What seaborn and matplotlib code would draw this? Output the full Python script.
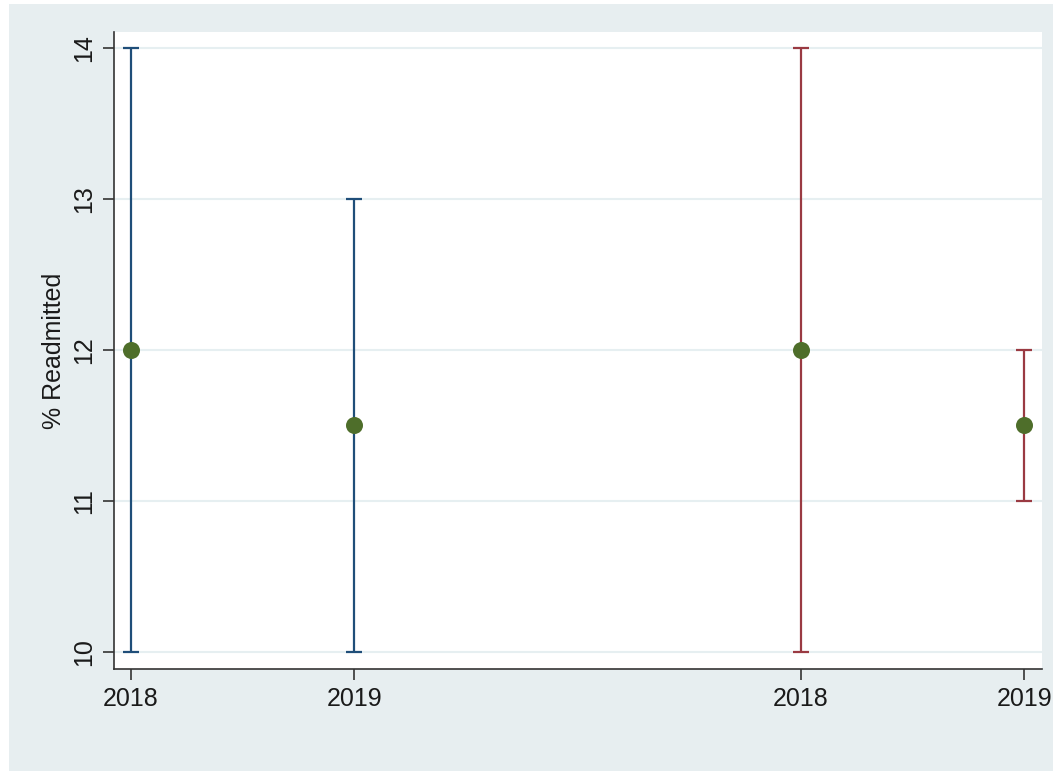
import matplotlib
matplotlib.use("Agg")
import matplotlib.pyplot as plt
import seaborn as sns
import pandas as pd
from matplotlib.patches import Rectangle

# ---- data ----
positions = [1, 2, 4, 5]
year_labels = ["2018", "2019", "2018", "2019"]
groups = ["A", "A", "B", "B"]
estimates = [12.0, 11.5, 12.0, 11.5]
lower = [10.0, 10.0, 10.0, 11.0]
upper = [14.0, 13.0, 14.0, 12.0]
y_ticks = [10, 11, 12, 13, 14]

df = pd.DataFrame({"pos": positions, "year": year_labels, "group": groups,
                   "est": estimates, "lo": lower, "hi": upper})

sns.set_theme(style="white")
plt.rcParams["font.family"] = ["Liberation Sans", "DejaVu Sans"]

BG = "#E7EEF0"
GRID = "#E6EFF1"
colors = {"A": "#1F4E79", "B": "#9A3A42"}
POINT = "#4E6E2A"

fig = plt.figure(figsize=(10.53, 7.71), dpi=100, facecolor="white")
fig.patches.append(Rectangle((9 / 1053, 0), 1 - 9 / 1053, (771 - 4) / 771,
                             transform=fig.transFigure, facecolor=BG,
                             edgecolor="none", zorder=-10))
ax = fig.add_axes([114 / 1053, (771 - 669) / 771, (1042 - 114) / 1053, (669 - 32) / 771])
ax.set_facecolor("white")

for g, sub in df.groupby("group"):
    ax.errorbar(sub["pos"], sub["est"],
                yerr=[sub["est"] - sub["lo"], sub["hi"] - sub["est"]],
                fmt="none", ecolor=colors[g], elinewidth=1.6, capsize=5.5,
                capthick=1.6, zorder=3)

sns.scatterplot(data=df, x="pos", y="est", color=POINT, s=150,
                edgecolor=POINT, linewidth=0, ax=ax, zorder=4, legend=False)

ax.set_xlim(0.925, 5.08)
ax.set_ylim(9.887, 14.106)
ax.set_xticks(positions)
ax.set_xticklabels(year_labels)
ax.set_yticks(y_ticks)
ax.set_yticklabels([str(t) for t in y_ticks], rotation=90, va="center")
for t in y_ticks:
    ax.axhline(t, color=GRID, lw=1.5, zorder=1)

ax.set_xlabel("")
ax.set_ylabel("% Readmitted", fontsize=18, labelpad=4, color="#1a1a1a")
ax.tick_params(axis="both", which="major", labelsize=18, length=8, width=1.2,
               color="#333333", labelcolor="#1a1a1a", direction="out",
               bottom=True, left=True)
ax.tick_params(axis="x", pad=5)
ax.tick_params(axis="y", pad=5)

for s in ["top", "right"]:
    ax.spines[s].set_visible(False)
for s in ["left", "bottom"]:
    ax.spines[s].set_color("#333333")
    ax.spines[s].set_linewidth(1.2)

fig.savefig("out.png", dpi=100, facecolor=fig.get_facecolor())
